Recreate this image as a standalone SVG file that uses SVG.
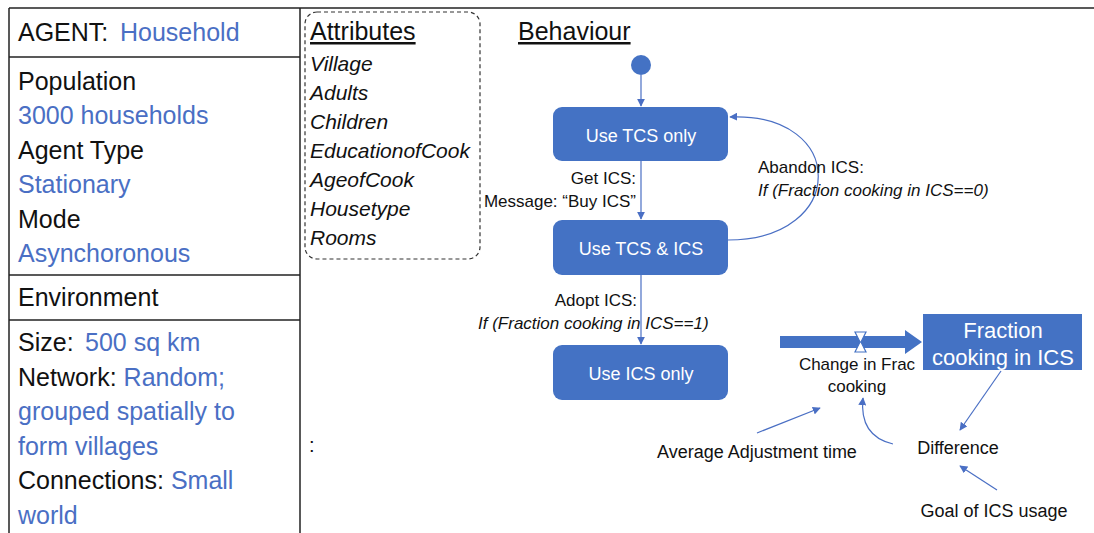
<svg xmlns="http://www.w3.org/2000/svg" width="1094" height="533" viewBox="0 0 1094 533">
<defs>
<style>
.t{font-family:"Liberation Sans",Arial,sans-serif;fill:#111}
.big{font-size:25px}
.b{fill:#4a6fc4}
.it{font-style:italic}
.attr{font-size:21px;font-style:italic}
.lbl{font-size:17px}
.sf{font-size:18px}
.nt{font-family:"Liberation Sans",Arial,sans-serif;font-size:18px;fill:#fff;text-anchor:middle}
.st{font-size:22px}
.node{fill:#4472C4}
.ln{stroke:#4a6fc4;stroke-width:1.2;fill:none}
.frame{stroke:#222;stroke-width:1.5;fill:none}
</style>
<marker id="ah" viewBox="0 0 10 10" refX="9" refY="5" markerWidth="8" markerHeight="8" orient="auto" markerUnits="userSpaceOnUse">
<path d="M0,0 L10,5 L0,10 z" fill="#4a6fc4"/>
</marker>
</defs>
<rect width="1094" height="533" fill="#fff"/>

<g id="frame">
<line class="frame" x1="9" y1="8" x2="1094" y2="8"/>
<line class="frame" x1="9" y1="8" x2="9" y2="533"/>
<line class="frame" x1="300" y1="8" x2="300" y2="533"/>
<line class="frame" x1="9" y1="57" x2="300" y2="57"/>
<line class="frame" x1="9" y1="275" x2="300" y2="275"/>
<line class="frame" x1="9" y1="320" x2="300" y2="320"/>
</g>

<g id="agent-table">
<text class="t big" x="18" y="41">AGENT:<tspan class="b" x="120">Household</tspan></text>
<text class="t big" x="18" y="90">Population</text>
<text class="t big b" x="18" y="124">3000 households</text>
<text class="t big" x="18" y="159">Agent Type</text>
<text class="t big b" x="18" y="193">Stationary</text>
<text class="t big" x="18" y="228">Mode</text>
<text class="t big b" x="18" y="262">Asynchoronous</text>
<text class="t big" x="18" y="306">Environment</text>
<text class="t big" x="18" y="351">Size:<tspan class="b" x="85">500 sq km</tspan></text>
<text class="t big" x="18" y="386">Network: <tspan class="b">Random;</tspan></text>
<text class="t big b" x="18" y="420">grouped spatially to</text>
<text class="t big b" x="18" y="455">form villages</text>
<text class="t big" x="18" y="489">Connections: <tspan class="b">Small</tspan></text>
<text class="t big b" x="18" y="524">world</text>
</g>

<g id="attributes">
<rect x="305" y="12" width="175" height="247" rx="12" fill="none" stroke="#333" stroke-width="1.2" stroke-dasharray="4,3"/>
<text class="t big" x="310" y="40" text-decoration="underline">Attributes</text>
<text class="t attr" x="310" y="71">Village</text>
<text class="t attr" x="310" y="100">Adults</text>
<text class="t attr" x="310" y="129">Children</text>
<text class="t attr" x="310" y="158">EducationofCook</text>
<text class="t attr" x="310" y="187">AgeofCook</text>
<text class="t attr" x="310" y="216">Housetype</text>
<text class="t attr" x="310" y="245">Rooms</text>
</g>

<text class="t" x="309" y="452" font-size="20">:</text>

<g id="behaviour-title">
<text class="t big" x="518" y="40" text-decoration="underline">Behaviour</text>
</g>

<g id="connectors">
<line class="ln" x1="641" y1="75" x2="641" y2="106" marker-end="url(#ah)"/>
<line class="ln" x1="641" y1="161" x2="641" y2="219" marker-end="url(#ah)"/>
<line class="ln" x1="641" y1="275" x2="641" y2="344" marker-end="url(#ah)"/>
<path class="ln" d="M728,240 C848,240 848,112 730,117" marker-end="url(#ah)"/>
<line class="ln" x1="1001" y1="371" x2="960" y2="430" marker-end="url(#ah)"/>
<line class="ln" x1="997" y1="490" x2="960" y2="466" marker-end="url(#ah)"/>
<line class="ln" x1="757" y1="433" x2="820" y2="408" marker-end="url(#ah)"/>
<path class="ln" d="M893,444 Q859,436 863,398" marker-end="url(#ah)"/>
</g>

<g id="initial">
<circle cx="641" cy="65" r="10" class="node"/>
</g>
<g id="node-tcs">
<rect x="553" y="107" width="175" height="54" rx="9" class="node"/>
<text class="nt" x="641" y="142">Use TCS only</text>
</g>
<g id="node-tcs-ics">
<rect x="553" y="220" width="175" height="55" rx="9" class="node"/>
<text class="nt" x="641" y="255">Use TCS &amp; ICS</text>
</g>
<g id="node-ics">
<rect x="553" y="345" width="175" height="55" rx="9" class="node"/>
<text class="nt" x="641" y="380">Use ICS only</text>
</g>

<g id="labels">
<text class="t lbl" x="636" y="184" text-anchor="end">Get ICS:</text>
<text class="t lbl" x="636" y="207" text-anchor="end">Message: “Buy ICS”</text>
<text class="t lbl" x="637" y="306" text-anchor="end">Adopt ICS:</text>
<text class="t lbl it" x="478" y="329">If (Fraction cooking in ICS==1)</text>
<text class="t lbl" x="758" y="173">Abandon ICS:</text>
<text class="t lbl it" x="758" y="196">If (Fraction cooking in ICS==0)</text>
</g>

<g id="flow">
<path d="M780,336 H905 V330 L922,342 L905,354 V348 H780 Z" fill="#4472C4"/>
<path d="M855,332 H866 L861,342 L866,352 H855 L860,342 Z" fill="#fff" stroke="#4472C4" stroke-width="1.2"/>
<text class="t lbl" x="857" y="370" text-anchor="middle">Change in Frac</text>
<text class="t lbl" x="857" y="392" text-anchor="middle">cooking</text>
</g>
<g id="stock">
<rect x="923" y="314" width="159" height="56" class="node"/>
<text class="nt st" x="1003" y="338">Fraction</text>
<text class="nt st" x="1003" y="365">cooking in ICS</text>
</g>
<g id="difference">
<text class="t sf" x="958" y="454" text-anchor="middle">Difference</text>
</g>
<g id="goal">
<text class="t sf" x="994" y="517" text-anchor="middle">Goal of ICS usage</text>
</g>
<g id="adjtime">
<text class="t sf" x="757" y="458" text-anchor="middle">Average Adjustment time</text>
</g>
</svg>
